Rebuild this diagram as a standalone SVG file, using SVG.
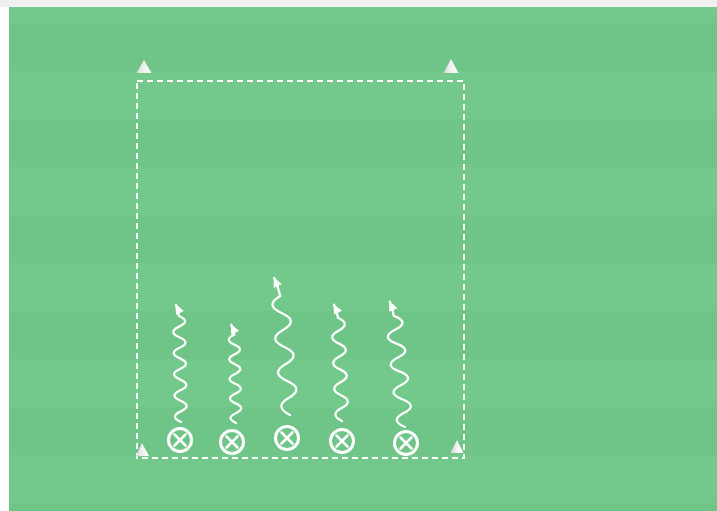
<svg xmlns="http://www.w3.org/2000/svg" width="717" height="511" viewBox="0 0 717 511">
<style>
.light{fill:#73c98b}
.dark{fill:#6fc487}
.bound{fill:none;stroke:#fff;stroke-width:2;stroke-dasharray:6 4}
.run{fill:none;stroke:#fff;stroke-width:2.3;stroke-linecap:round;marker-end:url(#head)}
.ring{fill:none;stroke:#fff;stroke-width:3}
.xl{stroke:#fff;stroke-width:2.6;stroke-linecap:round}
.cone{fill:url(#coneg)}
</style>
<defs>
<marker id="head" viewBox="0 0 10 9" refX="9" refY="4.5" markerWidth="10" markerHeight="9" markerUnits="userSpaceOnUse" orient="auto">
<path d="M0,0 L10,4.5 L0,9 z" fill="#fff"/>
</marker>
<linearGradient id="coneg" x1="0" y1="0" x2="1" y2="0">
<stop offset="0" stop-color="#d6d6d6"/>
<stop offset="0.5" stop-color="#f2f2f2"/>
<stop offset="1" stop-color="#ffffff"/>
</linearGradient>
</defs>
<rect x="0" y="0" width="717" height="511" fill="#ffffff"/>
<rect x="0" y="0" width="717" height="7" fill="#f0f0f0"/>
<g id="field">
<rect class="light" x="9" y="7" width="708" height="16"/>
<rect class="dark" x="9" y="23" width="708" height="48"/>
<rect class="light" x="9" y="71" width="708" height="48"/>
<rect class="dark" x="9" y="119" width="708" height="48"/>
<rect class="light" x="9" y="167" width="708" height="48"/>
<rect class="dark" x="9" y="215" width="708" height="48"/>
<rect class="light" x="9" y="263" width="708" height="48"/>
<rect class="dark" x="9" y="311" width="708" height="48"/>
<rect class="light" x="9" y="359" width="708" height="48"/>
<rect class="dark" x="9" y="407" width="708" height="48"/>
<rect class="light" x="9" y="455" width="708" height="48"/>
<rect class="dark" x="9" y="503" width="708" height="8"/>
</g>
<g id="area">
<rect class="bound" x="137" y="81" width="327" height="377"/>
</g>
<g id="cones">
<path class="cone" d="M144,60 L151.5,73 L136.5,73 z"/>
<path class="cone" d="M451,59 L458.5,73 L443.5,73 z"/>
<path class="cone" d="M142,443 L149,456 L136,456 z"/>
<path class="cone" d="M457,440 L463.5,453 L450.5,453 z"/>
</g>
<g id="connectors">
<path class="run" d="M181,422 c-8,-3.5 -8,-7.1 -0.2,-10.6 s8,-7.1 -0.2,-10.6 s-8,-7.1 -0.2,-10.6 s8,-7.1 -0.2,-10.6 s-8,-7.1 -0.2,-10.6 s8,-7.1 -0.2,-10.6 s-8,-7.1 -0.2,-10.6 s8,-7.1 -0.2,-10.6 s-8,-7.1 -0.2,-10.6 s8,-7.1 -0.2,-10.6 q-1,-7 -3,-11"/>
<path class="run" d="M236,423 c-7.3,-3.3 -7.3,-6.5 -0.2,-9.8 s7.3,-6.5 -0.2,-9.8 s-7.3,-6.5 -0.2,-9.8 s7.3,-6.5 -0.2,-9.8 s-7.3,-6.5 -0.2,-9.8 s7.3,-6.5 -0.2,-9.8 s-7.3,-6.5 -0.2,-9.8 s7.3,-6.5 -0.2,-9.8 s-7.3,-6.5 -0.2,-9.8 q-1,-6 -3,-10"/>
<path class="run" d="M290,415 c-11.3,-5.7 -11.3,-11.3 -1.4,-17 s11.3,-11.3 -1.4,-17 s-11.3,-11.3 -1.4,-17 s11.3,-11.3 -1.4,-17 s-11.3,-11.3 -1.4,-17 s11.3,-11.3 -1.4,-17 s-11.3,-11.3 -1.4,-17 q-2,-9 -6,-18"/>
<path class="run" d="M342,421 c-8.7,-4.3 -8.7,-8.6 -0.5,-12.9 s8.7,-8.6 -0.5,-12.9 s-8.7,-8.6 -0.5,-12.9 s8.7,-8.6 -0.5,-12.9 s-8.7,-8.6 -0.5,-12.9 s8.7,-8.6 -0.5,-12.9 s-8.7,-8.6 -0.5,-12.9 s8.7,-8.6 -0.5,-12.9 q-1,-7 -4,-13"/>
<path class="run" d="M405,427 c-10.7,-4.6 -10.7,-9.3 -1.4,-13.9 s10.7,-9.3 -1.4,-13.9 s-10.7,-9.3 -1.4,-13.9 s10.7,-9.3 -1.4,-13.9 s-10.7,-9.3 -1.4,-13.9 s10.7,-9.3 -1.4,-13.9 s-10.7,-9.3 -1.4,-13.9 s10.7,-9.3 -1.4,-13.9 q-1,-7 -4,-14"/>
</g>
<g id="player1"><circle class="ring" cx="180" cy="440" r="11.5"/><path class="xl" d="M174.5,434.5 L185.5,445.5 M185.5,434.5 L174.5,445.5"/></g>
<g id="player2"><circle class="ring" cx="232" cy="442" r="11.5"/><path class="xl" d="M226.5,436.5 L237.5,447.5 M237.5,436.5 L226.5,447.5"/></g>
<g id="player3"><circle class="ring" cx="287" cy="438" r="11.5"/><path class="xl" d="M281.5,432.5 L292.5,443.5 M292.5,432.5 L281.5,443.5"/></g>
<g id="player4"><circle class="ring" cx="342" cy="441" r="11.5"/><path class="xl" d="M336.5,435.5 L347.5,446.5 M347.5,435.5 L336.5,446.5"/></g>
<g id="player5"><circle class="ring" cx="406" cy="443" r="11.5"/><path class="xl" d="M400.5,437.5 L411.5,448.5 M411.5,437.5 L400.5,448.5"/></g>
</svg>
